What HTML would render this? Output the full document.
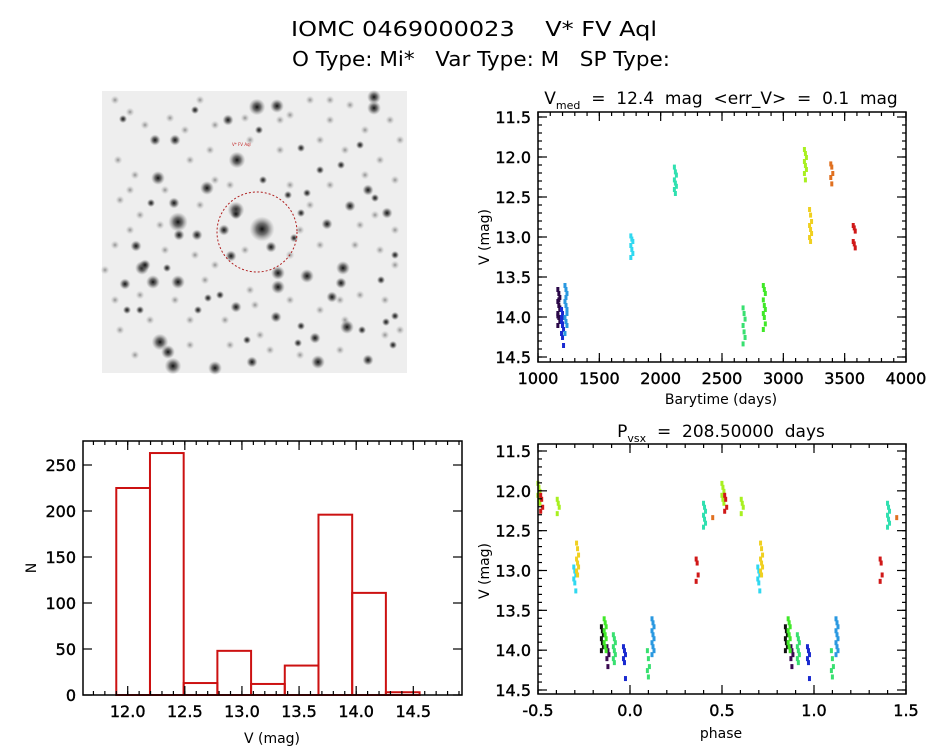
<!DOCTYPE html>
<html><head><meta charset="utf-8"><style>
html,body{margin:0;padding:0;background:#fff;}
svg{display:block;font-family:"DejaVu Sans","Liberation Sans",sans-serif;}
.pre{white-space:pre;}
</style></head><body>
<svg id="fig" width="944" height="747" viewBox="0 0 944 747" xmlns="http://www.w3.org/2000/svg">
<rect width="944" height="747" fill="#fff"/>
<text class="pre" x="291" y="36" font-size="20" textLength="366" lengthAdjust="spacingAndGlyphs">IOMC 0469000023    V* FV Aql</text>
<text class="pre" x="292" y="66" font-size="20" textLength="378" lengthAdjust="spacingAndGlyphs">O Type: Mi*   Var Type: M   SP Type:</text>
<g id="img"></g>
<g id="lc"></g>
<g id="ph"></g>
<g id="hist"></g>
</svg>
<script>
// ---------- data ----------
const lcColors = ["#2a0848","#1a2ad0","#2a98e0","#30d8f0","#30e0b0","#38e070","#40e828","#a8f020","#f0d020","#e07020","#d01818"];
const lcTimes = [1170,1200,1228,1765,2120,2680,2845,3180,3222,3395,3578];
const lcMags = [
 [13.65,13.7,13.75,13.8,13.85,13.9,13.95,14.0,14.05,14.1,13.78,13.88,13.98],
 [13.9,13.95,14.0,14.05,14.1,14.15,14.2,14.25,14.35,14.0,14.08],
 [13.6,13.65,13.7,13.8,13.85,13.9,14.0,14.05,14.1,14.2,13.75,13.95],
 [12.98,13.02,13.05,13.1,13.15,13.2,13.25],
 [12.12,12.18,12.22,12.28,12.32,12.36,12.4,12.45],
 [13.88,13.95,14.02,14.1,14.18,14.25,14.33],
 [13.6,13.65,13.7,13.78,13.85,13.9,13.95,14.0,14.08,14.15],
 [11.9,11.95,12.0,12.05,12.1,12.15,12.2,12.28],
 [12.65,12.72,12.8,12.85,12.9,12.95,13.0,13.05],
 [12.08,12.12,12.2,12.25,12.33],
 [12.85,12.88,12.92,13.05,13.08,13.13]
];
// phase data (phase in [0,1))
const phColors = ["#101010","#3a0850","#40e828","#38e070","#1a2ad0","#38e070","#2a98e0","#30d8f0","#f0d020","#d01818","#30e0b0","#e07020","#a8f020","#a8f020","#d01818"];
const phPhase = [0.85,0.88,0.865,0.915,0.97,0.10,0.125,0.70,0.715,0.365,0.405,0.455,0.505,0.61,0.52];
const phMags = [
 [13.7,13.75,13.8,13.85,13.9,13.95,14.0],
 [13.95,14.0,14.05,14.1,14.2],
 [13.6,13.65,13.7,13.75,13.8,13.85,13.9,13.95,14.0],
 [13.8,13.85,13.9,13.95,14.0,14.05,14.1,14.15],
 [13.95,14.0,14.05,14.1,14.15,14.35],
 [14.0,14.1,14.2,14.25,14.33],
 [13.6,13.65,13.7,13.75,13.8,13.85,13.9,13.95,14.0,14.05],
 [12.95,13.0,13.05,13.1,13.15,13.25],
 [12.65,12.72,12.8,12.85,12.9,12.95,13.0,13.05],
 [12.85,12.9,13.05,13.13],
 [12.15,12.2,12.25,12.3,12.35,12.4,12.45],
 [12.33],
 [11.9,11.95,12.0,12.05,12.1,12.15],
 [12.1,12.15,12.2,12.28],
 [12.05,12.1,12.2,12.25]
];
const histEdges = [11.9,12.195,12.49,12.785,13.08,13.375,13.67,13.965,14.26,14.555];
const histCounts = [225,263,13,48,12,32,196,111,3];
const lcXTicks = [1000,1500,2000,2500,3000,3500,4000];
const magTicks = [11.5,12.0,12.5,13.0,13.5,14.0,14.5];
const phXTicks = [-0.5,0.0,0.5,1.0,1.5];
const histXTicks = [12.0,12.5,13.0,13.5,14.0,14.5];
const histYTicks = [0,50,100,150,200,250];

const NS="http://www.w3.org/2000/svg";
function mk(parent,tag,attrs,txt){const e=document.createElementNS(NS,tag);for(const k in attrs)e.setAttribute(k,attrs[k]);if(txt!==undefined)e.textContent=txt;parent.appendChild(e);return e;}
function lin(d0,d1,r0,r1){return v=>r0+(v-d0)*(r1-r0)/(d1-d0);}

function frame(g,L,T,R,B,xs,ys,xt,yt,xMinor,yMinor,xfmt,yfmt){
  const f=mk(g,'rect',{x:L,y:T,width:R-L,height:B-T,fill:'none',stroke:'#000','stroke-width':1.5});
  
  
  const tk=mk(g,'g',{stroke:'#000','stroke-width':1.2});
  
  
  xMinor.forEach(v=>{const x=xs(v);mk(tk,'line',{x1:x,y1:B,x2:x,y2:B-4});mk(tk,'line',{x1:x,y1:T,x2:x,y2:T+4});});
  xt.forEach(v=>{const x=xs(v);mk(tk,'line',{x1:x,y1:B,x2:x,y2:B-9});mk(tk,'line',{x1:x,y1:T,x2:x,y2:T+9});
    const t=mk(g,'text',{x:x,y:B+22,'font-size':16,'text-anchor':'middle',stroke:'#000','stroke-width':0.4},xfmt(v));
    
    });
  yMinor.forEach(v=>{const y=ys(v);mk(tk,'line',{x1:L,y1:y,x2:L+4,y2:y});mk(tk,'line',{x1:R,y1:y,x2:R-4,y2:y});});
  yt.forEach(v=>{const y=ys(v);mk(tk,'line',{x1:L,y1:y,x2:L+9,y2:y});mk(tk,'line',{x1:R,y1:y,x2:R-9,y2:y});
    const t=mk(g,'text',{x:L-7,y:y+6,'font-size':16,'text-anchor':'end',stroke:'#000','stroke-width':0.4},yfmt(v));
    
    });
}
function range(a,b,s){const r=[];for(let v=a;v<=b+1e-9;v+=s)r.push(+v.toFixed(4));return r;}
function ylabel(g,x,y,s){const t=mk(g,'text',{x:x,y:y,'font-size':14,'text-anchor':'middle',transform:`rotate(-90 ${x} ${y})`},s);
  }
function xlabel(g,x,y,s){const t=mk(g,'text',{x:x,y:y,'font-size':14,'text-anchor':'middle'},s);
  }

// ---------- light curve ----------
(function(){
  const g=document.getElementById('lc');
  const L=538,R=906,T=112,B=362;
  const xs=lin(1000,4000,L,R), ys=lin(11.5,14.5,117,357);
  const t=mk(g,'text',{x:721,y:104,'font-size':17,'text-anchor':'middle'});
  
  t.innerHTML='V<tspan font-size="11" dy="5">med</tspan><tspan dy="-5" class="pre">  =  12.4  mag  &lt;err_V&gt;  =  0.1  mag</tspan>';
  lcTimes.forEach((tm,i)=>{
    lcMags[i].forEach((m,j)=>{
      const r=mk(g,'rect',{x:xs(tm)-1.5+(j%3-1),y:ys(m)-2,width:3,height:5,fill:lcColors[i]});
      
      
    });
  });
  frame(g,L,T,R,B,xs,ys,lcXTicks,magTicks,range(1000,4000,100),range(11.5,14.5,0.1),v=>String(v),v=>v.toFixed(1));
  ylabel(g,489,237,'V (mag)');
  xlabel(g,721,404,'Barytime (days)');
})();

// ---------- phase ----------
(function(){
  const g=document.getElementById('ph');
  const L=538,R=906,T=444,B=694;
  const xs=lin(-0.5,1.5,L,R), ys=lin(11.5,14.5,451,690);
  const t=mk(g,'text',{x:721,y:437,'font-size':17,'text-anchor':'middle'});
  
  t.innerHTML='P<tspan font-size="11" dy="5">vsx</tspan><tspan dy="-5" class="pre">  =  208.50000  days</tspan>';
  phPhase.forEach((p,i)=>{
    [p-1,p,p+1].forEach(pp=>{
      if(pp<-0.5||pp>1.5)return;
      phMags[i].forEach((m,j)=>{
        const r=mk(g,'rect',{x:xs(pp)-1.5+(j%3-1),y:ys(m)-2,width:3,height:5,fill:phColors[i]});
        
        
      });
    });
  });
  frame(g,L,T,R,B,xs,ys,phXTicks,magTicks,range(-0.5,1.5,0.1),range(11.5,14.5,0.1),v=>v.toFixed(1),v=>v.toFixed(1));
  ylabel(g,489,571,'V (mag)');
  xlabel(g,721,738,'phase');
})();

// ---------- histogram ----------
(function(){
  const g=document.getElementById('hist');
  const L=83,R=462,T=441,B=695;
  const xs=lin(12.0,14.5,127.7,413.3), ys=lin(0,250,695,465);
  histCounts.forEach((c,i)=>{
    const x0=xs(histEdges[i]),x1=xs(histEdges[i+1]);
    const r=mk(g,'rect',{x:x0,y:ys(c),width:x1-x0,height:ys(0)-ys(c),fill:'none',stroke:'#cc1111','stroke-width':2});
    
    
  });
  frame(g,L,T,R,B,xs,ys,histXTicks,histYTicks,range(11.7,14.9,0.1),[],v=>v.toFixed(1),v=>String(v));
  ylabel(g,36,568,'N');
  xlabel(g,272,743,'V (mag)');
})();

// ---------- sky image (illustrative) ----------
(function(){
  const g=document.getElementById('img');
  const defs=mk(g,'defs',{});
  const rg=mk(defs,'radialGradient',{id:'star'});
  mk(rg,'stop',{offset:'0','stop-color':'#111','stop-opacity':'1'});
  mk(rg,'stop',{offset:'0.45','stop-color':'#444','stop-opacity':'0.75'});
  mk(rg,'stop',{offset:'1','stop-color':'#888','stop-opacity':'0'});
  const rf=mk(defs,'radialGradient',{id:'faint'});
  mk(rf,'stop',{offset:'0','stop-color':'#777','stop-opacity':'0.8'});
  mk(rf,'stop',{offset:'1','stop-color':'#bbb','stop-opacity':'0'});
  const bg=mk(g,'rect',{x:102,y:91,width:305,height:282,fill:'#eeeeee'});
  
  const faint=[[115,100],[130,112],[145,125],[170,118],[185,130],[200,100],[215,125],[245,118],[290,115],[310,100],[330,120],[350,105],[390,120],[400,140],[118,160],[135,175],[190,160],[210,150],[250,140],[280,150],[320,140],[345,150],[380,160],[395,180],[120,200],[140,215],[160,225],[200,205],[215,180],[290,185],[310,205],[330,185],[360,225],[395,230],[115,245],[130,230],[165,250],[195,255],[215,265],[290,255],[320,245],[355,245],[380,250],[115,300],[140,295],[175,300],[190,320],[225,320],[250,290],[260,335],[290,300],[320,310],[340,300],[360,295],[385,300],[400,330],[120,330],[135,355],[190,345],[230,345],[270,350],[300,355],[340,350],[385,335],[150,320],[245,250],[300,230],[365,175],[130,190],[230,185],[280,120],[330,100],[365,130],[165,190],[205,280],[255,305],[345,320],[375,215],[105,270],[395,265]];
  faint.forEach(s=>{
    const c=mk(g,'circle',{cx:s[0],cy:s[1],r:4.5,fill:'url(#faint)'});
    
    
  });
  const stars=[[257,107,6],[277,106,5],[374,97,5],[374,108,5],[228,120,4],[155,140,4],[175,140,4],[237,160,6],[158,178,5],[207,188,5],[368,190,4],[174,203,4],[178,222,7],[151,203,3],[236,210,6],[224,230,4],[197,235,4],[179,235,4],[136,246,4],[142,268,5],[153,282,5],[125,284,4],[178,282,5],[145,265,4],[278,273,5],[278,287,5],[307,276,5],[343,268,5],[341,283,4],[332,297,4],[262,229,9],[271,247,4],[231,256,4],[236,214,4],[327,224,4],[350,206,4],[387,213,4],[375,198,3],[220,295,3],[236,307,4],[276,317,4],[301,326,3],[315,338,4],[347,327,5],[298,343,3],[160,342,6],[168,352,5],[173,366,6],[215,368,5],[252,362,4],[318,362,5],[368,360,4],[393,345,3],[381,280,3],[395,316,3],[127,310,3],[198,310,3],[208,298,3],[301,148,3],[320,170,3],[341,165,3],[307,193,3],[395,255,3],[263,180,3],[195,110,3],[123,119,3],[360,145,3],[301,213,3],[294,238,3],[259,130,3],[288,195,3],[167,268,3],[140,310,3],[362,330,3],[386,322,3],[247,340,3]];
  stars.forEach(s=>{
    const c=mk(g,'circle',{cx:s[0],cy:s[1],r:s[2]*1.4,fill:'url(#star)'});
    
    
  });
  const ring=mk(g,'circle',{cx:257,cy:232,r:40,fill:'none',stroke:'#b02020','stroke-width':1,'stroke-dasharray':'2 2'});
  
  const lab=mk(g,'text',{x:232,y:146,'font-size':4,fill:'#c02020'},'V* FV Aql');
  
})();
</script>
</body></html>
